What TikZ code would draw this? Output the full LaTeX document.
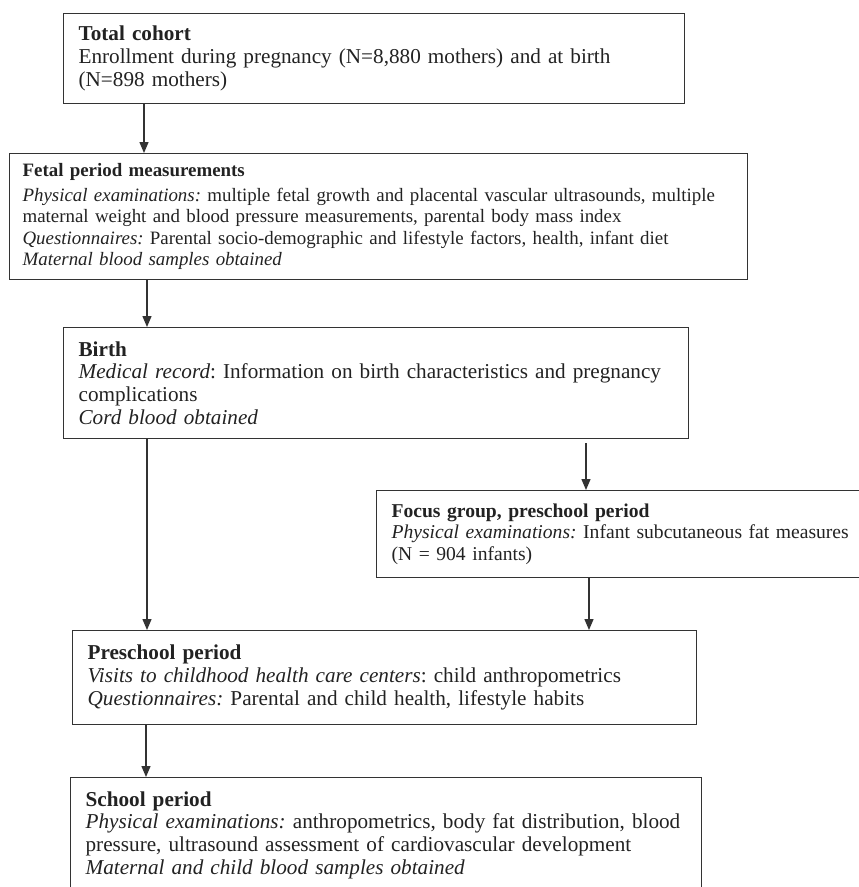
\documentclass[tikz,border=0pt]{standalone}
\usepackage{fontspec}
\setmainfont{Liberation Serif}
\usetikzlibrary{arrows.meta,positioning}
\definecolor{framegray}{HTML}{333333}
\definecolor{inkgray}{HTML}{222222}

\begin{document}
\begin{tikzpicture}[x=1pt,y=-1pt,
    stagebox/.style={rectangle,draw=framegray,line width=1.2pt,anchor=north west,inner xsep=15pt,inner ysep=0pt,align=left,text=inkgray,font=\frenchspacing\fontsize{21.2}{22.8}\selectfont},
    flow/.style={-{Triangle[length=11pt,width=9pt]},line width=1.4pt,draw=framegray}]
    \useasboundingbox (0,0) rectangle (859,887);

    \node[stagebox,text width=591pt,minimum height=90pt] (total) at (63,13) {\textbf{Total cohort}\\Enrollment during pregnancy (N=8,880 mothers) and at birth\\(N=898 mothers)};
    \node[stagebox,text width=712pt,inner xsep=13pt,minimum height=126pt,font=\frenchspacing\fontsize{18.9}{21.6}\selectfont] (fetal) at (9,153) {\textbf{Fetal period measurements}\\[3pt]\textit{Physical examinations:} multiple fetal growth and placental vascular ultrasounds, multiple\\maternal weight and blood pressure measurements, parental body mass index\\\textit{Questionnaires:} Parental socio-demographic and lifestyle factors, health, infant diet\\\textit{Maternal blood samples obtained}};
    \node[stagebox,text width=595pt,minimum height=111pt] (birth) at (63,327) {\textbf{Birth}\\\textit{Medical record}: Information on birth characteristics and pregnancy\\complications\\\textit{Cord blood obtained}};
    \node[stagebox,text width=520pt,minimum height=87pt,font=\frenchspacing\fontsize{19.6}{21.8}\selectfont] (focus) at (376,490) {\textbf{Focus group, preschool period}\\\textit{Physical examinations:} Infant subcutaneous fat measures\\(N = 904 infants)};
    \node[stagebox,text width=594pt,minimum height=94pt] (presch) at (72,630) {\textbf{Preschool period}\\\textit{Visits to childhood health care centers}: child anthropometrics\\\textit{Questionnaires:} Parental and child health, lifestyle habits};
    \node[stagebox,text width=601pt,minimum height=115pt] (school) at (70,777) {\textbf{School period}\\\textit{Physical examinations:} anthropometrics, body fat distribution, blood\\pressure, ultrasound assessment of cardiovascular development\\\textit{Maternal and child blood samples obtained}};

    \draw[flow] ([xshift=81pt]total.south west) -- ([xshift=81pt]total.south west |- fetal.north);
    \draw[flow] ([xshift=138pt]fetal.south west) -- ([xshift=138pt]fetal.south west |- birth.north);
    \draw[flow] ([xshift=84pt]birth.south west) -- ([xshift=84pt]birth.south west |- presch.north);
    \draw[flow] ([xshift=523pt,yshift=-4pt]birth.south west) -- ([xshift=523pt]birth.south west |- focus.north);
    \draw[flow] ([xshift=213pt]focus.south west) -- ([xshift=213pt]focus.south west |- presch.north);
    \draw[flow] ([xshift=74pt]presch.south west) -- ([xshift=74pt]presch.south west |- school.north);
\end{tikzpicture}
\end{document}
